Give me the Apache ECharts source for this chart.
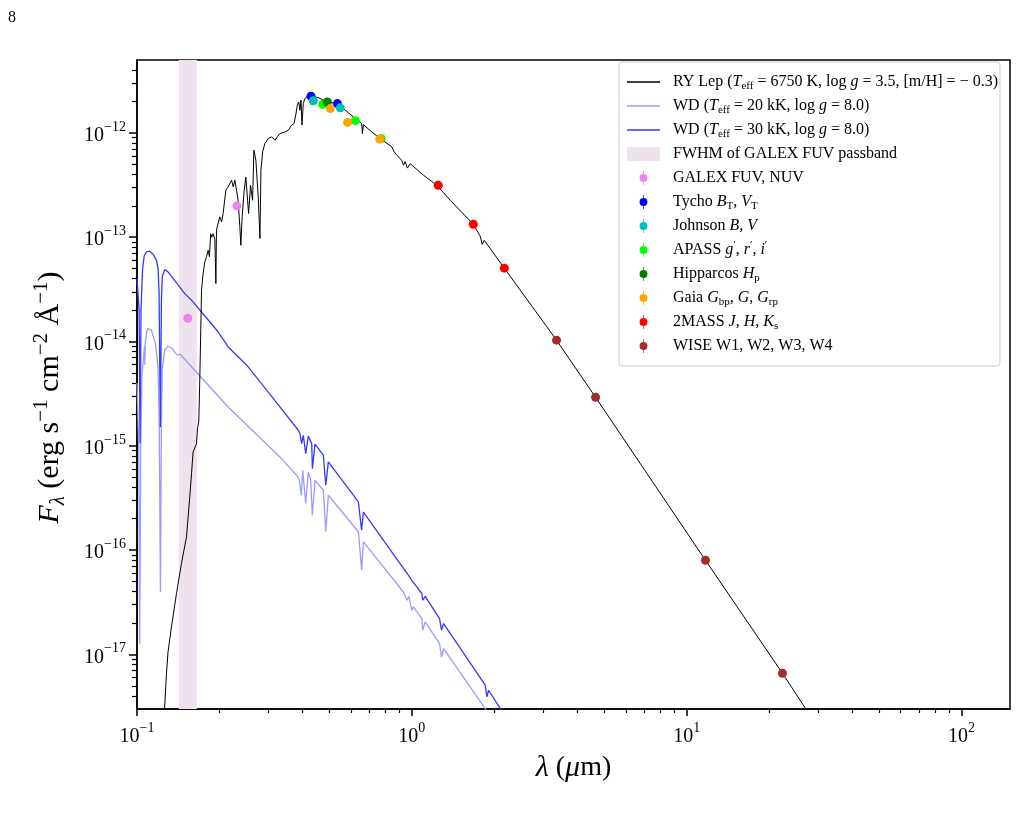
<!DOCTYPE html>
<html>
<head>
<meta charset="utf-8">
<script src="https://cdn.jsdelivr.net/npm/echarts@6/dist/echarts.min.js"></script>
<style>
  html, body { margin: 0; padding: 0; background: #fff; }
  #chart { width: 1017px; height: 827px; }
</style>
</head>
<body>
<div id="chart"></div>
<script>
// [wavelength (micron), flux (erg s-1 cm-2 A-1)]
const ryLepModel = [
    [0.1255, 2.5e-18], [0.128, 6.56e-18], [0.1297, 1.06e-17], [0.1335, 1.84e-17], [0.1392, 3.84e-17],
    [0.1451, 7.44e-17], [0.1514, 1.34e-16], [0.1556, 3.24e-16], [0.1579, 5.42e-16], [0.16, 8.74e-16],
    [0.1646, 1.05e-15], [0.166, 1.47e-15], [0.1678, 1.7e-15], [0.1692, 4.26e-15], [0.1706, 1.28e-14],
    [0.1717, 3.1e-14], [0.174, 4.49e-14], [0.1765, 5.8e-14], [0.179, 6.5e-14], [0.1815, 7.5e-14],
    [0.1835, 6.5e-14], [0.1853, 1.08e-13], [0.187, 1.0e-13], [0.1892, 1.08e-13], [0.192, 9.5e-14],
    [0.1936, 3.6e-14], [0.1946, 1.17e-13], [0.2, 1.57e-13], [0.2031, 1.4e-13], [0.2058, 1.69e-13],
    [0.2105, 2.83e-13], [0.2146, 3.04e-13], [0.2208, 3.52e-13], [0.2239, 3.04e-13], [0.227, 3.52e-13],
    [0.2302, 2.83e-13], [0.2333, 2.26e-13], [0.2367, 1.26e-13], [0.2387, 8.38e-14], [0.2413, 1.57e-13],
    [0.2455, 2.83e-13], [0.2489, 3.78e-13], [0.2525, 2.26e-13], [0.2547, 1.69e-13], [0.2589, 3.15e-13],
    [0.2633, 2.26e-13], [0.2662, 6.83e-13], [0.2707, 5.47e-13], [0.2761, 2.43e-13], [0.2801, 9.73e-14],
    [0.2824, 4.38e-13], [0.2864, 6.58e-13], [0.292, 7.91e-13], [0.3002, 8.84e-13], [0.309, 9.16e-13],
    [0.3176, 8.51e-13], [0.3238, 9.16e-13], [0.3311, 9.87e-13], [0.3453, 1.02e-12], [0.3549, 1.06e-12],
    [0.3602, 1.02e-12], [0.3654, 1.19e-12], [0.3726, 1.23e-12], [0.3788, 1.53e-12], [0.383, 1.84e-12],
    [0.3875, 1.98e-12], [0.3917, 1.65e-12], [0.3951, 2.06e-12], [0.3984, 1.19e-12], [0.4027, 1.91e-12],
    [0.4085, 2.14e-12], [0.4143, 2.22e-12], [0.42, 2.3e-12], [0.4322, 1.85e-12], [0.438, 2.22e-12],
    [0.4566, 2.18e-12], [0.4763, 2.06e-12], [0.49, 1.71e-12], [0.4966, 1.98e-12], [0.533, 1.91e-12],
    [0.5633, 1.71e-12], [0.6128, 1.42e-12], [0.6573, 1.23e-12], [0.6607, 9.87e-13], [0.6664, 1.2e-12],
    [0.7147, 1.02e-12], [0.7664, 8.84e-13], [0.8455, 7.34e-13], [0.862, 6.58e-13], [0.8816, 6.11e-13],
    [0.9066, 5.69e-13], [0.92, 5.4e-13], [0.932, 4.9e-13], [0.945, 5.3e-13], [0.9638, 4.6e-13],
    [0.9858, 5.07e-13], [1.102, 3.93e-13], [1.233, 3.15e-13], [1.379, 2.26e-13], [1.673, 1.33e-13],
    [1.774, 1.02e-13], [1.803, 8.55e-14], [1.834, 9.33e-14], [2.17, 5.05e-14], [3.36, 1.03e-14],
    [4.66, 2.92e-15], [11.7, 8.0e-17], [22.3, 6.6e-18], [30, 2.0e-18]
];

const wd20Model = [
    [0.1, 4.0e-15], [0.1015, 1.0e-15], [0.1023, 1.27e-17], [0.1032, 1.0e-15], [0.1043, 4.93e-15],
    [0.106, 8.0e-15], [0.1066, 9.0e-15], [0.1068, 6.0e-15], [0.1071, 9.6e-15], [0.1085, 1.25e-14],
    [0.1097, 1.33e-14], [0.1128, 1.28e-14], [0.1167, 9.57e-15], [0.1193, 5.71e-15], [0.1205, 1.5e-15],
    [0.1217, 3.97e-17], [0.1226, 1.5e-15], [0.1236, 5.5e-15], [0.1262, 8.26e-15], [0.1297, 9.02e-15],
    [0.1341, 8.57e-15], [0.138, 7.78e-15], [0.1403, 7.4e-15], [0.1422, 7.68e-15], [0.1433, 7.6e-15],
    [0.2146, 2.36e-15], [0.3311, 7.83e-16], [0.381, 5.22e-16], [0.3894, 4.68e-16], [0.396, 3.36e-16],
    [0.4008, 5.83e-16], [0.411, 2.8e-16], [0.42, 5.62e-16], [0.4284, 4.68e-16], [0.4345, 2.16e-16],
    [0.4443, 4.68e-16], [0.4763, 3.75e-16], [0.4862, 1.5e-16], [0.4967, 3.36e-16], [0.6391, 1.5e-16],
    [0.6563, 6.41e-17], [0.6664, 1.2e-16], [0.932, 3.97e-17], [0.959, 3.31e-17], [0.975, 3.6e-17],
    [1.0, 2.66e-17], [1.013, 2.86e-17], [1.087, 2.21e-17], [1.095, 1.71e-17], [1.118, 2.05e-17],
    [1.261, 1.27e-17], [1.282, 9.46e-18], [1.304, 1.14e-17], [1.849, 3.03e-18], [2.0, 2.0e-18]
];

const wd30Model = [
    [0.1, 4.0e-14], [0.1018, 2.0e-14], [0.1026, 1.06e-15], [0.1034, 2.0e-14], [0.1048, 5.0e-14],
    [0.1062, 6.6e-14], [0.1082, 7.23e-14], [0.1113, 7.35e-14], [0.1144, 6.87e-14], [0.1177, 6.03e-14],
    [0.1193, 5.01e-14], [0.1203, 3.0e-14], [0.1216, 1.52e-15], [0.1227, 2.5e-14], [0.1236, 4.2e-14],
    [0.1262, 4.9e-14], [0.1297, 4.65e-14], [0.1492, 2.88e-14], [0.1579, 2.49e-14], [0.1717, 1.92e-14],
    [0.1973, 1.24e-14], [0.2146, 8.87e-15], [0.2508, 5.93e-15], [0.3311, 2.36e-15], [0.3863, 1.41e-15],
    [0.3917, 1.31e-15], [0.3972, 1.05e-15], [0.4027, 1.26e-15], [0.411, 8.43e-16], [0.42, 1.24e-15],
    [0.4322, 1.05e-15], [0.4345, 6.05e-16], [0.4443, 1.04e-15], [0.4763, 8.13e-16], [0.4862, 4.19e-16],
    [0.4967, 7.02e-16], [0.6391, 2.9e-16], [0.6563, 1.55e-16], [0.6664, 2.32e-16], [0.932, 6.67e-17],
    [0.959, 6.04e-17], [1.0, 5.14e-17], [1.013, 4.95e-17], [1.087, 3.84e-17], [1.095, 3.31e-17],
    [1.118, 3.61e-17], [1.261, 2.21e-17], [1.282, 1.71e-17], [1.304, 1.98e-17], [1.849, 5.07e-18],
    [1.875, 3.92e-18], [1.902, 4.54e-18], [2.098, 3.03e-18], [2.3, 2.0e-18]
];

// photometry
const galexPts = [[0.153, 1.67e-14], [0.231, 2.0e-13]];
const tychoPts = [[0.4295, 2.25e-12], [0.536, 1.91e-12]];
const johnsonPts = [[0.438, 2.03e-12], [0.549, 1.74e-12]];
const apassPts = [[0.474, 1.88e-12], [0.623, 1.31e-12], [0.773, 8.84e-13]];
const hipparcosPts = [[0.4925, 1.98e-12]];
const gaiaPts = [[0.505, 1.71e-12], [0.584, 1.26e-12], [0.764, 8.75e-13]];
const twomassPts = [[1.247, 3.15e-13], [1.673, 1.33e-13], [2.17, 5.05e-14]];
const wisePts = [[3.36, 1.03e-14], [4.66, 2.92e-15], [11.7, 8.0e-17], [22.3, 6.6e-18]];

// GALEX FUV FWHM (micron)
const fuvBand = [0.142, 0.165];

const xMajorTicks = [0.1, 1, 10, 100];
const yMajorTicks = [1e-17, 1e-16, 1e-15, 1e-14, 1e-13, 1e-12];
const minorSteps = [2, 3, 4, 5, 6, 7, 8, 9];

const font = "'Liberation Serif', 'DejaVu Serif', serif";
const bandColor = '#eee2ef';

function minorTicks(lo, hi) {
    let out = [];
    for (let e = Math.floor(Math.log10(lo)); e <= Math.ceil(Math.log10(hi)); e++) {
        minorSteps.forEach(m => {
            let v = m * Math.pow(10, e);
            if (v > lo * 1.0001 && v < hi * 0.9999) {
                out.push(v);
            }
        });
    }
    return out;
}

function powLabel(v) {
    let e = Math.round(Math.log10(v));
    return '{b|10}{s|' + (e < 0 ? '\u2212' + (-e) : e) + '}';
}

const tickRich = {
    b: {fontFamily: font, fontSize: 20, lineHeight: 26, color: '#000', verticalAlign: 'bottom'},
    s: {fontFamily: font, fontSize: 14, lineHeight: 14, color: '#000', verticalAlign: 'top'}
};

const nameRich = {
    i: {fontFamily: font, fontSize: 30, lineHeight: 38, fontStyle: 'italic', color: '#000'},
    sub: {fontFamily: font, fontSize: 21, lineHeight: 22, verticalAlign: 'bottom', fontStyle: 'italic', color: '#000'},
    sup: {fontFamily: font, fontSize: 21, lineHeight: 21, verticalAlign: 'top', color: '#000'}
};

const legendRich = {
    i: {fontFamily: font, fontSize: 16, fontStyle: 'italic', lineHeight: 20, color: '#000'},
    sub: {fontFamily: font, fontSize: 11, lineHeight: 11, verticalAlign: 'bottom', color: '#000'},
    sup: {fontFamily: font, fontSize: 11, lineHeight: 11, verticalAlign: 'top', color: '#000'}
};

const legendText = {
    'RY Lep': 'RY Lep ({i|T}{sub|eff} = 6750 K, log {i|g} = 3.5, [m/H] = \u2212 0.3)',
    'WD 20': 'WD ({i|T}{sub|eff} = 20 kK, log {i|g} = 8.0)',
    'WD 30': 'WD ({i|T}{sub|eff} = 30 kK, log {i|g} = 8.0)',
    'FWHM': 'FWHM of GALEX FUV passband',
    'GALEX': 'GALEX FUV, NUV',
    'Tycho': 'Tycho {i|B}{sub|T}, {i|V}{sub|T}',
    'Johnson': 'Johnson {i|B}, {i|V}',
    'APASS': 'APASS {i|g}{sup|\u2032}, {i|r}{sup|\u2032}, {i|i}{sup|\u2032}',
    'Hipparcos': 'Hipparcos {i|H}{sub|p}',
    'Gaia': 'Gaia {i|G}{sub|bp}, {i|G}, {i|G}{sub|rp}',
    '2MASS': '2MASS {i|J}, {i|H}, {i|K}{sub|s}',
    'WISE': 'WISE W1, W2, W3, W4'
};

// legend icons: plain line sample, and a circle with a small vertical error bar
const lineIcon = 'path://M0,0 L33,0 L33,1.6 L0,1.6 Z';
const errIcon = 'path://M4.6,0 L5.4,0 L5.4,16 L4.6,16 Z M9.5,8 A4.5,4.5 0 1 1 0.5,8 A4.5,4.5 0 1 1 9.5,8 Z';

const photSets = [
    ['GALEX', galexPts, '#ee82ee'],
    ['Tycho', tychoPts, '#0000ff'],
    ['Johnson', johnsonPts, '#00bfbf'],
    ['APASS', apassPts, '#00ff00'],
    ['Hipparcos', hipparcosPts, '#008000'],
    ['Gaia', gaiaPts, '#ffa500'],
    ['2MASS', twomassPts, '#ff0000'],
    ['WISE', wisePts, '#a52a2a']
];

const xMin = 0.1, xMax = 150, yMin = 3e-18, yMax = 5e-12;

const axisBase = {
    type: 'log',
    logBase: 10,
    splitLine: {show: false},
    minorTick: {show: false}
};

const option = {
    animation: false,
    backgroundColor: '#fff',
    title: {
        text: '8', left: 3, top: 5,
        textStyle: {fontFamily: font, fontSize: 16, fontWeight: 'normal', color: '#000'}
    },
    grid: {
        left: 137, top: 60, right: 7, bottom: 118,
        show: true, borderColor: '#000', borderWidth: 1.5, backgroundColor: 'transparent'
    },
    legend: {
        orient: 'vertical',
        left: 619,
        top: 62,
        padding: [10, 2, 10, 8],
        itemWidth: 33,
        itemHeight: 14,
        itemGap: 4,
        backgroundColor: 'rgba(255,255,255,0.85)',
        borderColor: '#cccccc',
        borderWidth: 1,
        borderRadius: 3,
        selectedMode: false,
        textStyle: {fontFamily: font, fontSize: 16, lineHeight: 20, color: '#000', padding: [0, 0, 0, 8], rich: legendRich},
        formatter: name => legendText[name],
        data: [
            {name: 'RY Lep', icon: lineIcon}, {name: 'WD 20', icon: lineIcon}, {name: 'WD 30', icon: lineIcon},
            {name: 'FWHM', icon: 'rect'}
        ].concat(photSets.map(p => ({name: p[0], icon: errIcon})))
    },
    xAxis: [
        Object.assign({}, axisBase, {
            min: xMin, max: xMax, position: 'bottom',
            axisLine: {show: true, onZero: false, lineStyle: {color: '#000', width: 1.5}},
            axisTick: {show: true, length: 7, customValues: xMajorTicks, lineStyle: {color: '#000', width: 1.5}},
            axisLabel: {customValues: xMajorTicks, formatter: powLabel, margin: 12, rich: tickRich},
            name: '{i|\u03bb} ({i|\u03bc}m)',
            nameLocation: 'middle',
            nameGap: 40,
            nameTextStyle: {rich: nameRich, fontFamily: font, fontSize: 28, color: '#000'}
        }),
        Object.assign({}, axisBase, {
            min: xMin, max: xMax, position: 'bottom',
            axisLine: {show: false},
            axisTick: {show: true, length: 4, customValues: minorTicks(xMin, xMax), lineStyle: {color: '#000', width: 1.2}},
            axisLabel: {show: false}
        })
    ],
    yAxis: [
        Object.assign({}, axisBase, {
            min: yMin, max: yMax, position: 'left',
            axisLine: {show: true, onZero: false, lineStyle: {color: '#000', width: 1.5}},
            axisTick: {show: true, length: 8, customValues: yMajorTicks, lineStyle: {color: '#000', width: 1.5}},
            axisLabel: {customValues: yMajorTicks, formatter: powLabel, margin: 11, rich: tickRich},
            name: '{i|F}{sub|\u03bb} (erg s{sup|\u22121} cm{sup|\u22122} \u00c5{sup|\u22121})',
            nameLocation: 'middle',
            nameGap: 68,
            nameTextStyle: {rich: nameRich, fontFamily: font, fontSize: 30, color: '#000', padding: [0, 26, 0, 0]}
        }),
        Object.assign({}, axisBase, {
            min: yMin, max: yMax, position: 'left',
            axisLine: {show: false},
            axisTick: {show: true, length: 5, customValues: minorTicks(yMin, yMax), lineStyle: {color: '#000', width: 1.2}},
            axisLabel: {show: false}
        })
    ],
    series: [
        {
            name: 'FWHM', type: 'line', data: [], z: 1,
            itemStyle: {color: bandColor}, lineStyle: {color: bandColor},
            markArea: {
                silent: true,
                itemStyle: {color: bandColor},
                data: [[{xAxis: fuvBand[0]}, {xAxis: fuvBand[1]}]]
            }
        },
        {
            name: 'RY Lep', type: 'line', data: ryLepModel, z: 3,
            symbol: 'none', clip: true,
            itemStyle: {color: '#000'}, lineStyle: {color: '#000', width: 1}
        },
        {
            name: 'WD 20', type: 'line', data: wd20Model, z: 2,
            symbol: 'none', clip: true,
            itemStyle: {color: '#9a9aff'}, lineStyle: {color: '#9a9aff', width: 1.3}
        },
        {
            name: 'WD 30', type: 'line', data: wd30Model, z: 2,
            symbol: 'none', clip: true,
            itemStyle: {color: '#3838ff'}, lineStyle: {color: '#3838ff', width: 1.3}
        }
    ].concat(photSets.map((p, k) => ({
        name: p[0], type: 'scatter', data: p[1], z: 5 + k,
        symbol: 'circle', symbolSize: 9,
        itemStyle: {color: p[2], opacity: 1}
    })))
};

const chart = echarts.init(document.getElementById('chart'), null, {renderer: 'canvas'});
chart.setOption(option);
</script>
</body>
</html>
